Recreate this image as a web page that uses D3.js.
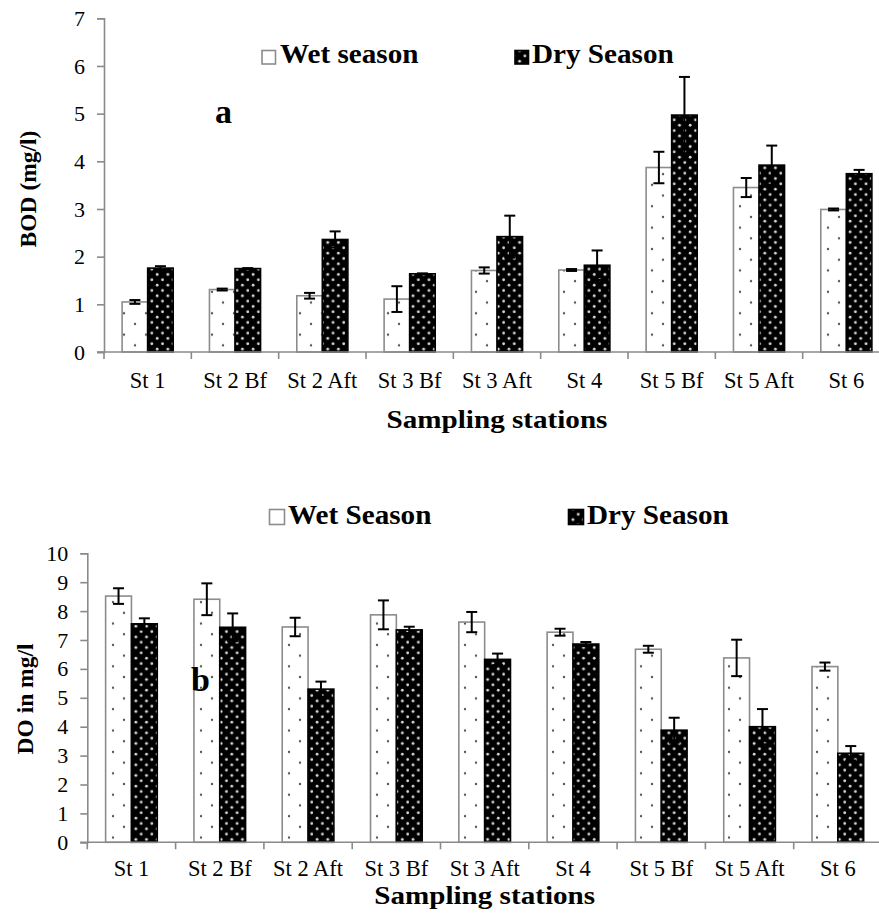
<!DOCTYPE html>
<html>
<head>
<meta charset="utf-8">
<script src="https://cdn.jsdelivr.net/npm/d3@7/dist/d3.min.js"></script>
<style>
  html, body { margin: 0; padding: 0; background: #fff; }
  svg { display: block; }
</style>
</head>
<body>
<svg id="chart" width="879" height="923"></svg>
<script>
// Sampling stations along the river
const categories = ["St 1", "St 2 Bf", "St 2 Aft", "St 3 Bf", "St 3 Aft", "St 4", "St 5 Bf", "St 5 Aft", "St 6"];

// (a) Biochemical oxygen demand, mg/l (mean and error)
const bodWet    = [1.05, 1.31, 1.18, 1.11, 1.71, 1.72, 3.87, 3.45, 2.99];
const bodWetErr = [0.04, 0.02, 0.06, 0.27, 0.065, 0.02, 0.33, 0.20, 0.02];
const bodDry    = [1.76, 1.75, 2.36, 1.64, 2.42, 1.82, 4.97, 3.92, 3.74];
const bodDryErr = [0.04, 0.01, 0.17, 0.01, 0.44, 0.31, 0.80, 0.41, 0.08];

// (b) Dissolved oxygen, mg/l (mean and error)
const doWet    = [8.52, 8.41, 7.45, 7.87, 7.62, 7.27, 6.68, 6.38, 6.08];
const doWetErr = [0.27, 0.55, 0.32, 0.50, 0.35, 0.12, 0.12, 0.63, 0.14];
const doDry    = [7.56, 7.44, 5.30, 7.35, 6.33, 6.86, 3.88, 4.00, 3.08];
const doDryErr = [0.19, 0.48, 0.26, 0.11, 0.20, 0.07, 0.43, 0.61, 0.25];

const bodTicks = [0, 1, 2, 3, 4, 5, 6, 7];
const doTicks  = [0, 1, 2, 3, 4, 5, 6, 7, 8, 9, 10];

const FONT = "'Liberation Serif', 'Times New Roman', 'DejaVu Serif', serif";
const svg = d3.select("#chart");
const axisGrey = "#8a8a8a";

// Fill patterns: sparse dark dots on white, light dots on black
const defs = svg.append("defs");
const wetPat = defs.append("pattern").attr("id", "wetDots")
  .attr("patternUnits", "userSpaceOnUse").attr("width", 22).attr("height", 21.4);
wetPat.append("rect").attr("width", 22).attr("height", 21.4).attr("fill", "#fff");
wetPat.append("circle").attr("cx", 3).attr("cy", 3).attr("r", 1.2).attr("fill", "#555");
wetPat.append("circle").attr("cx", 14).attr("cy", 13.7).attr("r", 1.2).attr("fill", "#555");

const dryPat = defs.append("pattern").attr("id", "dryDots")
  .attr("patternUnits", "userSpaceOnUse").attr("width", 10.66).attr("height", 10.66);
dryPat.append("rect").attr("width", 10.66).attr("height", 10.66).attr("fill", "#000");
dryPat.append("circle").attr("cx", 2.6).attr("cy", 2.6).attr("r", 1.4).attr("fill", "#d8d8d8");
dryPat.append("circle").attr("cx", 7.93).attr("cy", 7.93).attr("r", 1.4).attr("fill", "#d8d8d8");

function styleText(sel, size, bold) {
  sel.attr("font-family", FONT).style("font-family", FONT)
    .attr("font-size", size).style("font-size", size + "px")
    .attr("font-weight", bold ? "bold" : "normal").style("font-weight", bold ? "bold" : "normal")
    .attr("fill", "#000");
  return sel;
}

function drawPanel(cfg) {
  const g = svg.append("g");
  const x = d3.scaleBand().domain(categories).range([cfg.x0, cfg.x1]);
  const y = d3.scaleLinear().domain([0, cfg.yMax]).range([cfg.y0, cfg.y1]);
  const groupW = x.bandwidth() * 0.585;
  const sub = d3.scaleBand().domain(["wet", "dry"]).range([0, groupW]);
  const left = c => x(c) + (x.bandwidth() - groupW) / 2;

  const series = [
    { key: "wet", values: cfg.wet, err: cfg.wetErr, fill: "url(#wetDots)", stroke: "#8c8c8c" },
    { key: "dry", values: cfg.dry, err: cfg.dryErr, fill: "url(#dryDots)", stroke: "#000" }
  ];

  // bars
  series.forEach(s => {
    g.append("g").selectAll("rect").data(s.values).join("rect")
      .attr("x", (d, i) => left(categories[i]) + sub(s.key))
      .attr("y", d => y(d))
      .attr("width", sub.bandwidth())
      .attr("height", d => y(0) - y(d))
      .attr("fill", s.fill)
      .attr("stroke", s.stroke)
      .attr("stroke-width", 1.6);
  });

  // error bars
  series.forEach(s => {
    const eg = g.append("g").attr("stroke", "#000").attr("stroke-width", 2);
    s.values.forEach((v, i) => {
      const cx = left(categories[i]) + sub(s.key) + sub.bandwidth() / 2;
      const hi = y(v + s.err[i]), lo = y(v - s.err[i]);
      eg.append("line").attr("x1", cx).attr("x2", cx).attr("y1", hi).attr("y2", lo);
      eg.append("line").attr("x1", cx - 5.5).attr("x2", cx + 5.5).attr("y1", hi).attr("y2", hi);
      eg.append("line").attr("x1", cx - 5.5).attr("x2", cx + 5.5).attr("y1", lo).attr("y2", lo);
    });
  });

  // y axis
  const yAxis = g.append("g").attr("transform", `translate(${cfg.x0},0)`)
    .call(d3.axisLeft(y).tickValues(cfg.ticks).tickSize(7).tickPadding(12).tickFormat(d3.format("d")));
  yAxis.attr("font-family", null).attr("font-size", null);
  yAxis.selectAll("path, line").attr("stroke", axisGrey).attr("stroke-width", 1.6);
  styleText(yAxis.selectAll("text"), 22, false);

  // x axis: labels centred in each band, ticks on the band boundaries
  const xAxis = g.append("g").attr("transform", `translate(0,${cfg.y0})`)
    .call(d3.axisBottom(x).tickSize(0).tickPadding(cfg.labelPad));
  xAxis.attr("font-family", null).attr("font-size", null);
  xAxis.select(".domain").remove();
  styleText(xAxis.selectAll("text"), 22.5, false);
  g.append("line").attr("x1", cfg.x0 - 7).attr("x2", cfg.x1)
    .attr("y1", cfg.y0).attr("y2", cfg.y0).attr("stroke", axisGrey).attr("stroke-width", 1.6);
  const bounds = categories.map(c => x(c)).concat([cfg.x1]);
  g.append("g").selectAll("line").data(bounds).join("line")
    .attr("x1", d => d).attr("x2", d => d)
    .attr("y1", cfg.y0).attr("y2", cfg.y0 + 7)
    .attr("stroke", axisGrey).attr("stroke-width", 1.6);

  // axis titles
  styleText(g.append("text"), 26, true)
    .attr("transform", `translate(${(cfg.x0 + cfg.x1) / 2},${cfg.titleY}) scale(1.12,1)`)
    .attr("text-anchor", "middle")
    .text("Sampling stations");
  styleText(g.append("text"), 23.5, true)
    .attr("transform", `translate(${cfg.yTitleX},${cfg.yTitleY}) rotate(-90)`)
    .attr("text-anchor", "middle")
    .text(cfg.yTitle);

  // panel letter
  styleText(g.append("text"), 34, true)
    .attr("x", cfg.letterX).attr("y", cfg.letterY).text(cfg.letter);

  // legend
  const lg = g.append("g");
  cfg.legend.forEach((item, k) => {
    const s = series[k];
    lg.append("rect").attr("x", item.bx).attr("y", cfg.legendY - cfg.box + 1)
      .attr("width", cfg.box).attr("height", cfg.box)
      .attr("fill", s.key === "wet" ? "#fff" : "url(#dryDots)")
      .attr("stroke", s.stroke).attr("stroke-width", 1.6);
    styleText(lg.append("text"), 27, true)
      .attr("transform", `translate(${item.tx},${cfg.legendY}) scale(1.08,1)`)
      .text(item.label);
  });
}

drawPanel({
  x0: 104, x1: 890, y0: 352, y1: 18.3, yMax: 7, ticks: bodTicks,
  wet: bodWet, wetErr: bodWetErr, dry: bodDry, dryErr: bodDryErr,
  labelPad: 20, titleY: 428, yTitle: "BOD (mg/l)", yTitleX: 36, yTitleY: 189,
  letter: "a", letterX: 215, letterY: 123,
  legendY: 63, box: 13.5,
  legend: [
    { label: "Wet season", bx: 262, tx: 280 },
    { label: "Dry Season", bx: 515, tx: 532 }
  ]
});

drawPanel({
  x0: 87.3, x1: 882, y0: 842.3, y1: 553.3, yMax: 10, ticks: doTicks,
  wet: doWet, wetErr: doWetErr, dry: doDry, dryErr: doDryErr,
  labelPad: 17.5, titleY: 904, yTitle: "DO in mg/l", yTitleX: 33, yTitleY: 699,
  letter: "b", letterX: 191, letterY: 691,
  legendY: 523.5, box: 15,
  legend: [
    { label: "Wet Season", bx: 269.5, tx: 288 },
    { label: "Dry Season", bx: 568.5, tx: 587 }
  ]
});
</script>
</body>
</html>
